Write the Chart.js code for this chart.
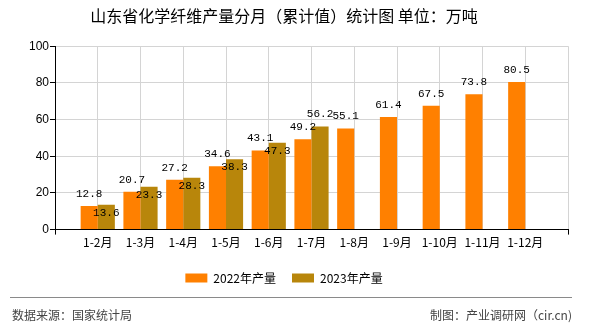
<!DOCTYPE html>
<html lang="zh">
<head>
    <meta charset="UTF-8">
    <title>山东省化学纤维产量分月（累计值）统计图</title>
    <style>
        html, body { margin: 0; padding: 0; background: #fff; }
        #wrap { width: 590px; height: 330px; position: relative; }
    </style>
    <script src="https://cdn.jsdelivr.net/npm/chart.js"></script>
</head>
<body>
    <div id="wrap"><canvas id="chanliang" width="590" height="330"></canvas></div>

    <script>
        // 月份（累计）
        const months = ['1-2月', '1-3月', '1-4月', '1-5月', '1-6月', '1-7月', '1-8月', '1-9月', '1-10月', '1-11月', '1-12月'];
        // 产量，万吨
        const output2022 = [12.8, 20.7, 27.2, 34.6, 43.1, 49.2, 55.1, 61.4, 67.5, 73.8, 80.5];
        const output2023 = [13.6, 23.3, 28.3, 38.3, 47.3, 56.2];
        const yTicks = [0, 20, 40, 60, 80, 100];

        const cjk = '"Noto Sans CJK SC", "Liberation Sans", sans-serif';

        // 首尾留空位，柱子落在网格线上
        const labels = [''].concat(months, ['']);
        function pad(arr) {
            const out = [null];
            for (let i = 0; i < months.length; i++) {
                out.push(i < arr.length ? arr[i] : null);
            }
            out.push(null);
            return out;
        }

        // 数值标签
        const valueLabels = {
            id: 'valueLabels',
            afterDatasetsDraw(chart) {
                const ctx = chart.ctx;
                ctx.save();
                ctx.font = '11px "Liberation Mono", "DejaVu Sans Mono", monospace';
                ctx.fillStyle = '#000';
                ctx.textAlign = 'center';
                ctx.textBaseline = 'middle';
                chart.data.datasets.forEach((ds, di) => {
                    const meta = chart.getDatasetMeta(di);
                    meta.data.forEach((bar, i) => {
                        const v = ds.data[i];
                        if (v === null || v === undefined) return;
                        let dy = -12;
                        // 2023年的标签压在柱顶内，最后一个放在上面
                        if (di === 1 && ds.data[i + 1] !== null && ds.data[i + 1] !== undefined) dy = 8;
                        ctx.fillText(v.toFixed(1), bar.x, bar.y + dy);
                    });
                });
                ctx.restore();
            }
        };

        // 底部来源
        const footer = {
            id: 'footer',
            afterDraw(chart) {
                const ctx = chart.ctx;
                ctx.save();
                ctx.strokeStyle = '#8a8a8a';
                ctx.lineWidth = 1;
                ctx.beginPath();
                ctx.moveTo(10, 297.5);
                ctx.lineTo(572, 297.5);
                ctx.stroke();
                ctx.font = '12px ' + cjk;
                ctx.fillStyle = '#444';
                ctx.textBaseline = 'middle';
                ctx.textAlign = 'left';
                ctx.fillText('数据来源：国家统计局', 12, 315);
                ctx.textAlign = 'right';
                ctx.fillText('制图：产业调研网（cir.cn)', 572, 315);
                ctx.restore();
            }
        };

        new Chart(document.getElementById('chanliang'), {
            type: 'bar',
            data: {
                labels: labels,
                datasets: [{
                    label: '2022年产量',
                    data: pad(output2022),
                    backgroundColor: '#ff8000',
                    barPercentage: 1,
                    categoryPercentage: 0.8
                }, {
                    label: '2023年产量',
                    data: pad(output2023),
                    backgroundColor: '#b8860b',
                    barPercentage: 1,
                    categoryPercentage: 0.8
                }]
            },
            options: {
                responsive: false,
                animation: false,
                devicePixelRatio: 1,
                layout: { padding: { left: 0, right: 22, top: 0, bottom: 36 } },
                plugins: {
                    title: {
                        display: true,
                        text: '山东省化学纤维产量分月（累计值）统计图 单位：万吨',
                        color: '#000',
                        font: { family: cjk, size: 16, weight: 'normal' },
                        padding: { top: 6, bottom: 21 }
                    },
                    legend: {
                        position: 'bottom',
                        labels: {
                            boxWidth: 22,
                            boxHeight: 9,
                            color: '#000',
                            padding: 16,
                            font: { family: cjk, size: 12 }
                        }
                    },
                    tooltip: { enabled: false }
                },
                scales: {
                    x: {
                        offset: false,
                        afterFit: (s) => { s.height += 5; },
                        grid: {
                            offset: false,
                            color: '#d4d4d4',
                            tickLength: 5,
                            tickColor: (c) => (c.index === 0 || c.index === labels.length - 1) ? '#000' : 'rgba(0,0,0,0)'
                        },
                        border: { color: '#000' },
                        ticks: {
                            color: '#000',
                            autoSkip: false,
                            maxRotation: 0,
                            padding: 1,
                            font: { family: cjk, size: 12 }
                        }
                    },
                    y: {
                        min: 0,
                        max: 100,
                        afterBuildTicks: (s) => { s.ticks = yTicks.map(v => ({ value: v })); },
                        afterFit: (s) => { s.width = 55; },
                        grid: { color: '#d4d4d4', tickLength: 5, tickColor: '#000' },
                        border: { color: '#000' },
                        ticks: {
                            color: '#000',
                            padding: 1,
                            font: { family: '"Liberation Sans", Arial, sans-serif', size: 12 }
                        }
                    }
                }
            },
            plugins: [valueLabels, footer]
        });
    </script>
</body>
</html>
